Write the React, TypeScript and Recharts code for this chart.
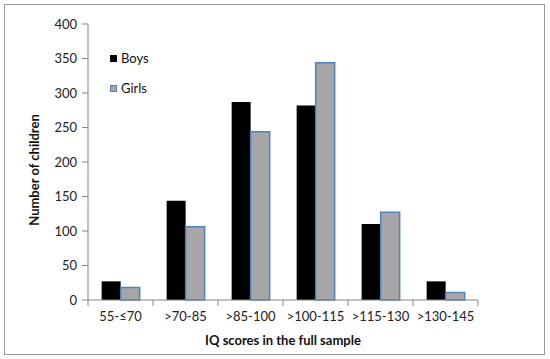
import React from 'react';
import { BarChart, Bar, XAxis, YAxis, Legend } from 'recharts';

const categories = ['55-≤70', '>70-85', '>85-100', '>100-115', '>115-130', '>130-145'];
const boys = [27, 144, 287, 282, 110, 27];
const girls = [18, 106, 244, 344, 127, 11];
const yTicks = [0, 50, 100, 150, 200, 250, 300, 350, 400];

const data = categories.map((range, i) => ({ range, boys: boys[i], girls: girls[i] }));

const FONT = 'Lato, "Liberation Sans", sans-serif';
const AXIS = '#868686';
const W = 550;
const H = 359;
const M = { top: 24, right: 72, left: 0, bottom: 0 };
const Y_W = 88;
const STEP = (W - M.right - Y_W) / categories.length;

const CategoryTick = ({ x, y, payload, index }: any) => (
  <g>
    <line x1={x - STEP / 2} x2={x - STEP / 2} y1={y - 8} y2={y - 2} stroke={AXIS} />
    {index === categories.length - 1 && (
      <line x1={x + STEP / 2} x2={x + STEP / 2} y1={y - 8} y2={y - 2} stroke={AXIS} />
    )}
    <text x={x} y={y + 13} textAnchor="middle" fontSize={13} fill="#222" fontFamily={FONT}>
      {payload.value}
    </text>
  </g>
);

const LegendBox = () => (
  <div style={{ fontFamily: FONT, fontSize: 13, color: '#111' }}>
    <div style={{ display: 'flex', alignItems: 'center', height: 16 }}>
      <span style={{ width: 7, height: 7, background: '#000', marginRight: 4, display: 'inline-block' }} />
      Boys
    </div>
    <div style={{ display: 'flex', alignItems: 'center', height: 16, marginTop: 14 }}>
      <span
        style={{
          width: 5,
          height: 5,
          background: '#a6a6a6',
          border: '1px solid #4f81bd',
          marginRight: 4,
          display: 'inline-block',
        }}
      />
      Girls
    </div>
  </div>
);

export default function App() {
  return (
    <div style={{ position: 'absolute', left: 0, top: 0, width: W, height: H, background: '#fff' }}>
      <div
        style={{
          position: 'absolute',
          left: 4,
          top: 4,
          width: 541,
          height: 351,
          border: '1.5px solid #999',
          boxSizing: 'border-box',
        }}
      />
      <BarChart
        width={W}
        height={H}
        data={data}
        margin={M}
        barCategoryGap="21%"
        barGap={0}
      >
        <XAxis
          dataKey="range"
          stroke={AXIS}
          tickLine={false}
          tick={<CategoryTick />}
          height={59}
          interval={0}
          label={{
            value: 'IQ scores in the full sample',
            position: 'insideBottom',
            offset: 14,
            fontSize: 13,
            fontWeight: 700,
            fill: '#111',
            fontFamily: FONT,
          }}
        />
        <YAxis
          width={Y_W}
          domain={[0, 400]}
          ticks={yTicks}
          stroke={AXIS}
          tickSize={6}
          tickMargin={5}
          tick={{ fontSize: 13, fill: '#222', fontFamily: FONT }}
          label={{
            content: ({ viewBox }: any) => (
              <text
                x={34}
                y={viewBox.y + viewBox.height / 2 + 8}
                transform={`rotate(-90 34 ${viewBox.y + viewBox.height / 2 + 8})`}
                textAnchor="middle"
                dominantBaseline="central"
                fontSize={13}
                fontWeight={700}
                fill="#111"
                fontFamily={FONT}
              >
                Number of children
              </text>
            ),
          }}
        />
        <Legend
          layout="vertical"
          verticalAlign="middle"
          align="center"
          content={<LegendBox />}
          wrapperStyle={{ left: 110, top: 50, width: 80 }}
        />
        <Bar dataKey="boys" name="Boys" fill="#000" isAnimationActive={false} />
        <Bar
          dataKey="girls"
          name="Girls"
          fill="#a6a6a6"
          stroke="#4f81bd"
          strokeWidth={1.5}
          isAnimationActive={false}
        />
      </BarChart>
    </div>
  );
}
